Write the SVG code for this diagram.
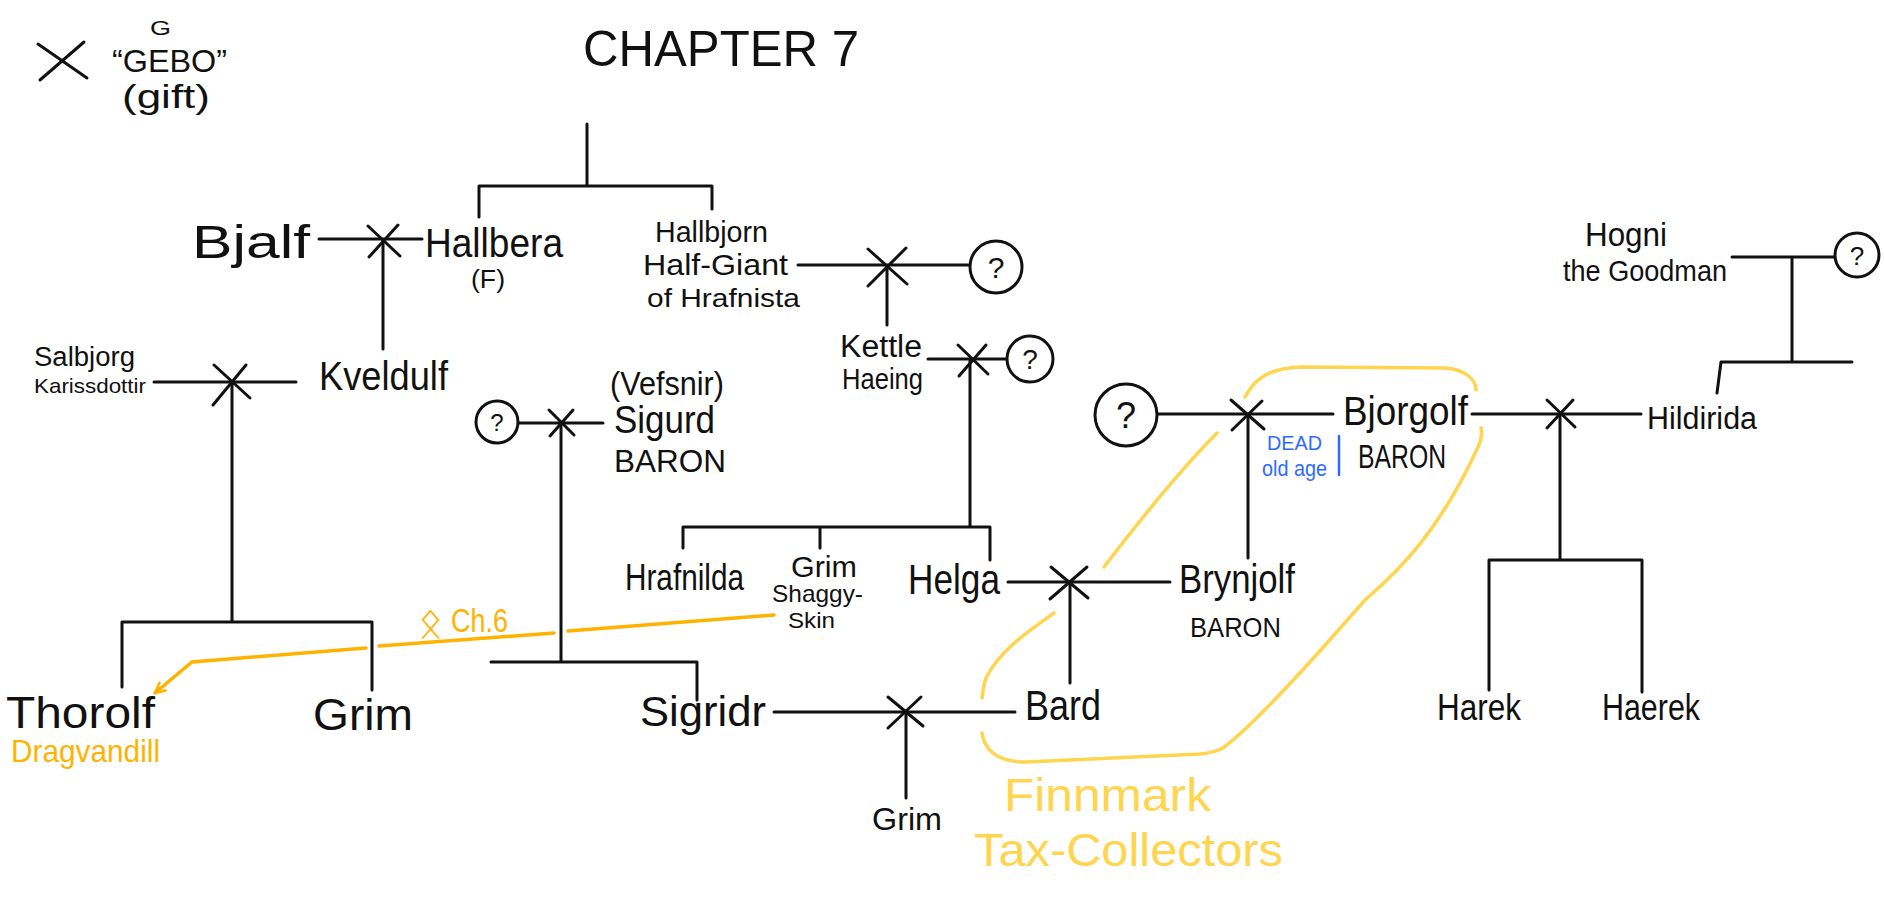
<svg xmlns="http://www.w3.org/2000/svg" width="1884" height="900" viewBox="0 0 1884 900">
<style>
text{font-family:"Liberation Sans","DejaVu Sans",sans-serif;fill:#111;}
.ln{stroke:#111;stroke-width:3;fill:none;stroke-linecap:round;stroke-linejoin:round;}
.x{stroke:#111;stroke-width:3;fill:none;stroke-linecap:round;}
.q{stroke:#111;stroke-width:3;fill:#fff;}
.y{stroke:#FFD54F;stroke-width:3.5;fill:none;stroke-linecap:round;}
.o{stroke:#FFB300;stroke-width:3.5;fill:none;stroke-linecap:round;}
.ot{fill:#FFB300;}
.yt{fill:#FFD54F;}
.bt{fill:#2F6BFF;}
</style>
<defs>
<marker id="arr" viewBox="0 0 12 12" refX="11" refY="6" markerWidth="12" markerHeight="12" markerUnits="userSpaceOnUse" orient="auto">
<path d="M1,1 L11,6 L1,11" fill="none" stroke="#FFB300" stroke-width="2.5" stroke-linecap="round"/>
</marker>
</defs>
<rect width="1884" height="900" fill="#fff"/>

<g id="legend">
<path class="x" d="M38 44 L87 78 M84 42 L40 80" stroke-width="4"/>
<text x="150" y="35" font-size="20" textLength="21" lengthAdjust="spacingAndGlyphs">G</text>
<text x="112" y="72" font-size="32" textLength="115" lengthAdjust="spacingAndGlyphs">“GEBO”</text>
<text x="122" y="108" font-size="34" textLength="88" lengthAdjust="spacingAndGlyphs">(gift)</text>
</g>
<g id="title"><text x="583" y="66" font-size="50" textLength="276" lengthAdjust="spacingAndGlyphs">CHAPTER 7</text></g>

<g id="connectors">
<path class="ln" d="M587 124 V186 M479 217 V186 H712 V209"/>
<path class="ln" d="M319 239 H422 M383 240 V349"/>
<path class="x" d="M368 226 L400 256 M398 225 L369 257"/>
<path class="ln" d="M154 382 H296 M232 382 V622 M122 687 V622 H372 V690"/>
<path class="x" d="M214 365 L250 398 M246 365 L213 405"/>
<path class="ln" d="M519 423 H603 M561 423 V662 M491 662 H697 V700"/>
<path class="x" d="M549 410 L574 435 M573 410 L550 436"/>
<path class="ln" d="M798 265 H968 M887 265 V325"/>
<path class="x" d="M868 249 L907 284 M906 248 L868 286"/>
<path class="ln" d="M928 359 H1007 M970 359 V527 M683 548 V527 H990 V560 M820 527 V548"/>
<path class="x" d="M958 345 L988 374 M986 345 L959 376"/>
<path class="ln" d="M1008 582 H1170 M1070 582 V683"/>
<path class="x" d="M1051 567 L1088 598 M1087 567 L1050 599" stroke-width="4"/>
<path class="ln" d="M774 712 H1015 M906 712 V798"/>
<path class="x" d="M888 697 L923 726 M921 697 L888 728"/>
<path class="ln" d="M1157 414 H1333 M1248 414 V558"/>
<path class="x" d="M1231 400 L1264 429 M1262 401 L1232 430"/>
<path class="ln" d="M1472 414 H1641 M1560 414 V560 M1489 690 V560 H1642 V692"/>
<path class="x" d="M1547 400 L1575 427 M1573 400 L1547 428"/>
<path class="ln" d="M1732 257 H1835 M1792 257 V362 M1717 393 L1721 362 H1852"/>
<path class="o" d="M774 615 L568 631 M554 633 L379 646 M366 648 L192 662 L155 693" marker-end="url(#arr)"/>
<path class="y" d="M1104 567 C1140 520 1180 470 1217 433"/>
<path class="y" d="M1245 397 C1255 378 1270 368 1302 367 L1446 368 C1466 370 1476 380 1476 390"/>
<path class="y" d="M1481 428 C1483 437 1480 443 1478 447 C1440 530 1400 570 1365 600 C1330 640 1260 720 1223 748 C1215 752 1210 753 1200 754 L1026 762 C1000 762 985 752 982 733"/>
<path class="y" d="M982 698 C983 690 984 684 986 678 C1000 650 1030 630 1054 613"/>
</g>

<g id="bjalf"><text x="192" y="258" font-size="46" textLength="118" lengthAdjust="spacingAndGlyphs">Bjalf</text></g>
<g id="hallbera">
<text x="425" y="257" font-size="40" textLength="138" lengthAdjust="spacingAndGlyphs">Hallbera</text>
<text x="471" y="288" font-size="26" textLength="34" lengthAdjust="spacingAndGlyphs">(F)</text>
</g>
<g id="hallbjorn">
<text x="655" y="242" font-size="30" textLength="113" lengthAdjust="spacingAndGlyphs">Hallbjorn</text>
<text x="643" y="275" font-size="30" textLength="145" lengthAdjust="spacingAndGlyphs">Half-Giant</text>
<text x="647" y="307" font-size="26" textLength="153" lengthAdjust="spacingAndGlyphs">of Hrafnista</text>
</g>
<g id="unknown1"><circle class="q" cx="996" cy="267" r="26"/><text x="996" y="278" font-size="30" text-anchor="middle">?</text></g>
<g id="kettle">
<text x="840" y="357" font-size="31" textLength="82" lengthAdjust="spacingAndGlyphs">Kettle</text>
<text x="842" y="389" font-size="29" textLength="81" lengthAdjust="spacingAndGlyphs">Haeing</text>
</g>
<g id="unknown2"><circle class="q" cx="1030" cy="359" r="23"/><text x="1030" y="369" font-size="28" text-anchor="middle">?</text></g>
<g id="salbjorg">
<text x="34" y="366" font-size="27" textLength="101" lengthAdjust="spacingAndGlyphs">Salbjorg</text>
<text x="34" y="393" font-size="21" textLength="112" lengthAdjust="spacingAndGlyphs">Karissdottir</text>
</g>
<g id="kveldulf"><text x="319" y="390" font-size="40" textLength="129" lengthAdjust="spacingAndGlyphs">Kveldulf</text></g>
<g id="unknown3"><circle class="q" cx="497" cy="422" r="21"/><text x="497" y="431" font-size="24" text-anchor="middle">?</text></g>
<g id="sigurd">
<text x="610" y="395" font-size="34" textLength="114" lengthAdjust="spacingAndGlyphs">(Vefsnir)</text>
<text x="614" y="433" font-size="38" textLength="101" lengthAdjust="spacingAndGlyphs">Sigurd</text>
<text x="614" y="472" font-size="32" textLength="112" lengthAdjust="spacingAndGlyphs">BARON</text>
</g>
<g id="hrafnilda"><text x="625" y="590" font-size="36" textLength="119" lengthAdjust="spacingAndGlyphs">Hrafnilda</text></g>
<g id="grim-shaggy">
<text x="791" y="577" font-size="30" textLength="66" lengthAdjust="spacingAndGlyphs">Grim</text>
<text x="772" y="602" font-size="24" textLength="91" lengthAdjust="spacingAndGlyphs">Shaggy-</text>
<text x="788" y="628" font-size="22" textLength="47" lengthAdjust="spacingAndGlyphs">Skin</text>
</g>
<g id="helga"><text x="908" y="594" font-size="42" textLength="92" lengthAdjust="spacingAndGlyphs">Helga</text></g>
<g id="brynjolf">
<text x="1179" y="593" font-size="40" textLength="116" lengthAdjust="spacingAndGlyphs">Brynjolf</text>
<text x="1190" y="637" font-size="27" textLength="91" lengthAdjust="spacingAndGlyphs">BARON</text>
</g>
<g id="unknown4"><circle class="q" cx="1126" cy="415" r="31"/><text x="1126" y="428" font-size="36" text-anchor="middle">?</text></g>
<g id="bjorgolf">
<text x="1343" y="425" font-size="40" textLength="125" lengthAdjust="spacingAndGlyphs">Bjorgolf</text>
<text x="1358" y="468" font-size="33" textLength="88" lengthAdjust="spacingAndGlyphs">BARON</text>
<text class="bt" x="1267" y="450" font-size="20" textLength="55" lengthAdjust="spacingAndGlyphs">DEAD</text>
<text class="bt" x="1262" y="476" font-size="22" textLength="65" lengthAdjust="spacingAndGlyphs">old age</text>
<path d="M1339 436 V475" stroke="#2F6BFF" stroke-width="2.5" stroke-linecap="round"/>
</g>
<g id="hildirida"><text x="1647" y="429" font-size="31" textLength="110" lengthAdjust="spacingAndGlyphs">Hildirida</text></g>
<g id="hogni">
<text x="1585" y="246" font-size="34" textLength="82" lengthAdjust="spacingAndGlyphs">Hogni</text>
<text x="1563" y="281" font-size="30" textLength="164" lengthAdjust="spacingAndGlyphs">the Goodman</text>
</g>
<g id="unknown5"><circle class="q" cx="1857" cy="255" r="22"/><text x="1857" y="265" font-size="26" text-anchor="middle">?</text></g>
<g id="harek"><text x="1437" y="720" font-size="36" textLength="84" lengthAdjust="spacingAndGlyphs">Harek</text></g>
<g id="haerek"><text x="1602" y="720" font-size="36" textLength="98" lengthAdjust="spacingAndGlyphs">Haerek</text></g>
<g id="thorolf">
<text x="6" y="728" font-size="44" textLength="149" lengthAdjust="spacingAndGlyphs">Thorolf</text>
<text class="ot" x="11" y="762" font-size="32" textLength="149" lengthAdjust="spacingAndGlyphs">Dragvandill</text>
</g>
<g id="grim1"><text x="313" y="730" font-size="44" textLength="100" lengthAdjust="spacingAndGlyphs">Grim</text></g>
<g id="sigridr"><text x="640" y="726" font-size="42" textLength="126" lengthAdjust="spacingAndGlyphs">Sigridr</text></g>
<g id="bard"><text x="1025" y="720" font-size="42" textLength="76" lengthAdjust="spacingAndGlyphs">Bard</text></g>
<g id="grim2"><text x="872" y="830" font-size="32" textLength="70" lengthAdjust="spacingAndGlyphs">Grim</text></g>
<g id="ch6-label">
<text class="ot" x="418" y="637" font-size="42" style="font-family:'DejaVu Sans',sans-serif">ᛟ</text>
<text class="ot" x="451" y="632" font-size="34" textLength="57" lengthAdjust="spacingAndGlyphs">Ch.6</text>
</g>
<g id="finnmark-label">
<text class="yt" x="1004" y="811" font-size="46" textLength="207" lengthAdjust="spacingAndGlyphs">Finnmark</text>
<text class="yt" x="974" y="866" font-size="46" textLength="309" lengthAdjust="spacingAndGlyphs">Tax-Collectors</text>
</g>
</svg>
